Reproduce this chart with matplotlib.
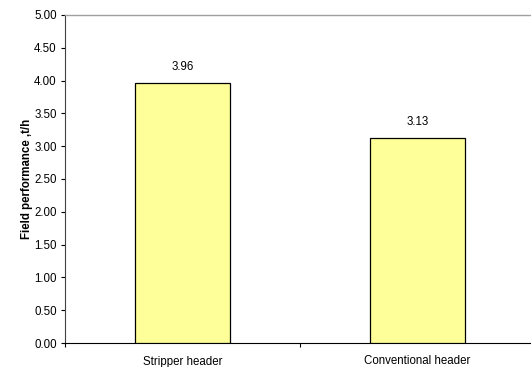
import matplotlib
matplotlib.use("Agg")
import matplotlib.pyplot as plt

categories = ["Stripper header", "Conventional header"]
values = [3.96, 3.13]
yticks = [0.0, 0.5, 1.0, 1.5, 2.0, 2.5, 3.0, 3.5, 4.0, 4.5, 5.0]

plt.rcParams['font.family'] = ['Liberation Sans', 'DejaVu Sans']
fs = 8.3

fig = plt.figure(figsize=(5.31, 3.67), dpi=100)
ax = fig.add_axes([65/531, 1-343/367, 470/531, 328/367])

x = [0.5, 1.5]
bars = ax.bar(x, values, width=0.404, color="#ffff99", edgecolor="black", linewidth=0.9, zorder=3)
for xi, v in zip(x, values):
    ax.text(xi, v + 0.15, f"{v:.2f}", ha="center", va="bottom", fontsize=fs)

ax.set_xlim(0, 2)
ax.set_ylim(0, 5)
ax.set_yticks(yticks)
ax.set_yticklabels([f"{t:.2f}" for t in yticks], fontsize=fs)
ax.set_xticks([0, 1, 2])
ax.set_xticklabels([])
ax.set_xticks(x, minor=True)
ax.set_xticklabels(categories, minor=True, fontsize=fs)
ax.tick_params(axis="x", which="minor", length=0, pad=9)
ax.tick_params(axis="x", which="major", length=3, width=0.8, direction="out")
ax.tick_params(axis="y", length=3, width=0.8, direction="out", pad=3)

ax.set_ylabel("Field performance ,t/h", fontsize=fs, fontweight="bold", labelpad=1)

ax.spines["top"].set_color("#a0a0a0")
ax.spines["top"].set_linewidth(1.0)
ax.spines["right"].set_visible(False)
ax.spines["left"].set_color("#404040")
ax.spines["left"].set_linewidth(0.8)
ax.spines["bottom"].set_color("black")
ax.spines["bottom"].set_linewidth(0.8)

fig.savefig("out.png", dpi=100)
